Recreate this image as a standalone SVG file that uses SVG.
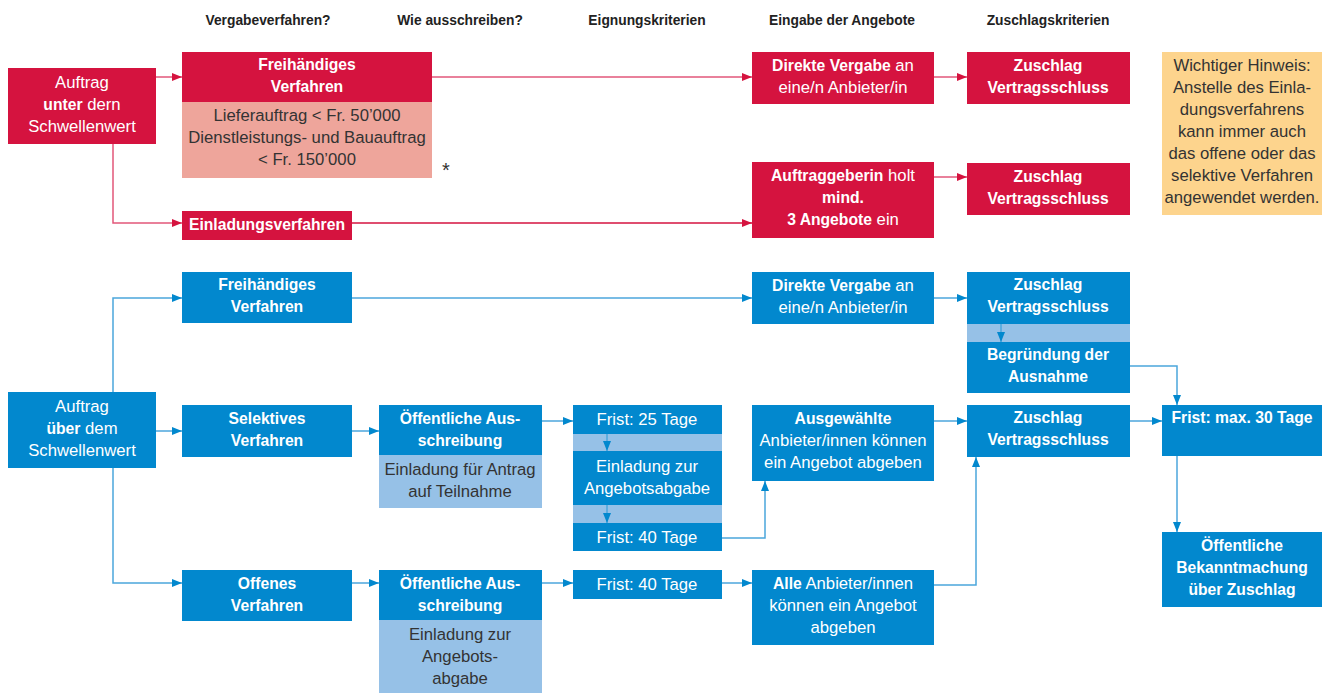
<svg xmlns="http://www.w3.org/2000/svg" width="1322" height="693" viewBox="0 0 1322 693">
<style>
text{font-family:"Liberation Sans",Arial,sans-serif;font-size:16.7px;text-anchor:middle}
.h{font-weight:bold;font-size:13.8px;fill:#222}
.w{fill:#fff}
.d{fill:#333}
.b{font-weight:bold;font-size:15.7px}
.red{fill:#D5133F}
.pink{fill:#EEA59B}
.blue{fill:#0288CE}
.lb{fill:#96C1E7}
.note{fill:#FDD48D}
.lr{fill:none;stroke:#E2577A;stroke-width:1.5}
.lr2{fill:none;stroke:#D5133F;stroke-width:1.5}
.lbl{fill:none;stroke:#4BA6DC;stroke-width:1.5}
</style>
<defs>
<marker id="ar" markerUnits="userSpaceOnUse" markerWidth="10" markerHeight="8" refX="10" refY="4" orient="auto"><path d="M0,0 L10,4 L0,8 z" fill="#D5133F"/></marker>
<marker id="ab" markerUnits="userSpaceOnUse" markerWidth="10" markerHeight="8" refX="10" refY="4" orient="auto"><path d="M0,0 L10,4 L0,8 z" fill="#0288CE"/></marker>
</defs>
<rect width="1322" height="693" fill="#fff"/>
<g id="headers">
<text class="h" x="268" y="25">Vergabeverfahren?</text>
<text class="h" x="460" y="25">Wie ausschreiben?</text>
<text class="h" x="647" y="25">Eignungskriterien</text>
<text class="h" x="842" y="25">Eingabe der Angebote</text>
<text class="h" x="1048" y="25">Zuschlagskriterien</text>
</g>
<g id="connectors">
<path class="lr" d="M156,77 H182" marker-end="url(#ar)"/>
<path class="lr" d="M113,144 V223 H182" marker-end="url(#ar)"/>
<path class="lr" d="M432,77 H752" marker-end="url(#ar)"/>
<path class="lr2" d="M352,223 H752" marker-end="url(#ar)"/>
<path class="lr" d="M934,77 H967" marker-end="url(#ar)"/>
<path class="lr" d="M934,177 H967" marker-end="url(#ar)"/>
<path class="lbl" d="M113,392 V298 H182" marker-end="url(#ab)"/>
<path class="lbl" d="M156,431 H182" marker-end="url(#ab)"/>
<path class="lbl" d="M113,468 V583 H182" marker-end="url(#ab)"/>
<path class="lbl" d="M352,298 H752" marker-end="url(#ab)"/>
<path class="lbl" d="M352,431 H379" marker-end="url(#ab)"/>
<path class="lbl" d="M542,421 H573" marker-end="url(#ab)"/>
<path class="lbl" d="M722,538 H765 V481" marker-end="url(#ab)"/>
<path class="lbl" d="M352,583 H379" marker-end="url(#ab)"/>
<path class="lbl" d="M542,583 H573" marker-end="url(#ab)"/>
<path class="lbl" d="M722,583 H752" marker-end="url(#ab)"/>
<path class="lbl" d="M934,298 H967" marker-end="url(#ab)"/>
<path class="lbl" d="M934,421 H967" marker-end="url(#ab)"/>
<path class="lbl" d="M934,585 H976 V457" marker-end="url(#ab)"/>
<path class="lbl" d="M1130,366 H1177 V405" marker-end="url(#ab)"/>
<path class="lbl" d="M1130,421 H1162" marker-end="url(#ab)"/>
<path class="lbl" d="M1177,456 V532" marker-end="url(#ab)"/>
</g>
<g id="auftrag-unter">
<rect class="red" x="8" y="68" width="148" height="76"/>
<text class="w" x="82" y="88">Auftrag</text>
<text class="w" x="82" y="110"><tspan class="b">unter</tspan> dern</text>
<text class="w" x="82" y="132">Schwellenwert</text>
</g>
<g id="freihaendig-rot">
<rect class="red" x="182" y="52" width="250" height="50"/>
<rect class="pink" x="182" y="102" width="250" height="76"/>
<text class="w b" x="307" y="70">Freihändiges</text>
<text class="w b" x="307" y="92">Verfahren</text>
<text class="d" x="307" y="121">Lieferauftrag &lt; Fr. 50’000</text>
<text class="d" x="307" y="143">Dienstleistungs- und Bauauftrag</text>
<text class="d" x="307" y="165">&lt; Fr. 150’000</text>
</g>
<g id="asterisk"><text class="d" x="446" y="177" style="font-size:20px">*</text></g>
<g id="einladung">
<rect class="red" x="182" y="211" width="170" height="29"/>
<text class="w b" x="267" y="230">Einladungsverfahren</text>
</g>
<g id="direkt-rot">
<rect class="red" x="752" y="52" width="182" height="52"/>
<text class="w" x="843" y="71"><tspan class="b">Direkte Vergabe</tspan> an</text>
<text class="w" x="843" y="93">eine/n Anbieter/in</text>
</g>
<g id="auftraggeberin">
<rect class="red" x="752" y="162" width="182" height="76"/>
<text class="w" x="843" y="181"><tspan class="b">Auftraggeberin</tspan> holt</text>
<text class="w b" x="843" y="203">mind.</text>
<text class="w" x="843" y="225"><tspan class="b">3 Angebote</tspan> ein</text>
</g>
<g id="zuschlag-rot1">
<rect class="red" x="967" y="52" width="163" height="52"/>
<text class="w b" x="1048" y="71">Zuschlag</text>
<text class="w b" x="1048" y="93">Vertragsschluss</text>
</g>
<g id="zuschlag-rot2">
<rect class="red" x="967" y="163" width="163" height="52"/>
<text class="w b" x="1048" y="182">Zuschlag</text>
<text class="w b" x="1048" y="204">Vertragsschluss</text>
</g>
<g id="hinweis">
<rect class="note" x="1162" y="52" width="160" height="163"/>
<text class="d" x="1242" y="71">Wichtiger Hinweis:</text>
<text class="d" x="1242" y="93">Anstelle des Einla-</text>
<text class="d" x="1242" y="115">dungsverfahrens</text>
<text class="d" x="1242" y="137">kann immer auch</text>
<text class="d" x="1242" y="159">das offene oder das</text>
<text class="d" x="1242" y="181">selektive Verfahren</text>
<text class="d" x="1242" y="203">angewendet werden.</text>
</g>
<g id="auftrag-ueber">
<rect class="blue" x="8" y="392" width="148" height="76"/>
<text class="w" x="82" y="412">Auftrag</text>
<text class="w" x="82" y="434"><tspan class="b">über</tspan> dem</text>
<text class="w" x="82" y="456">Schwellenwert</text>
</g>
<g id="freihaendig-blau">
<rect class="blue" x="182" y="272" width="170" height="51"/>
<text class="w b" x="267" y="290">Freihändiges</text>
<text class="w b" x="267" y="312">Verfahren</text>
</g>
<g id="selektiv">
<rect class="blue" x="182" y="405" width="170" height="52"/>
<text class="w b" x="267" y="424">Selektives</text>
<text class="w b" x="267" y="446">Verfahren</text>
</g>
<g id="offen">
<rect class="blue" x="182" y="570" width="170" height="51"/>
<text class="w b" x="267" y="589">Offenes</text>
<text class="w b" x="267" y="611">Verfahren</text>
</g>
<g id="ausschreibung-sel">
<rect class="blue" x="379" y="405" width="163" height="50"/>
<rect class="lb" x="379" y="455" width="163" height="53"/>
<text class="w b" x="460" y="424">Öffentliche Aus-</text>
<text class="w b" x="460" y="446">schreibung</text>
<text class="d" x="460" y="475">Einladung für Antrag</text>
<text class="d" x="460" y="497">auf Teilnahme</text>
</g>
<g id="ausschreibung-off">
<rect class="blue" x="379" y="570" width="163" height="50"/>
<rect class="lb" x="379" y="620" width="163" height="73"/>
<text class="w b" x="460" y="589">Öffentliche Aus-</text>
<text class="w b" x="460" y="611">schreibung</text>
<text class="d" x="460" y="640">Einladung zur</text>
<text class="d" x="460" y="662">Angebots-</text>
<text class="d" x="460" y="684">abgabe</text>
</g>
<g id="frist-stack">
<rect class="blue" x="573" y="405" width="149" height="29"/>
<rect class="lb" x="573" y="434" width="149" height="17"/>
<rect class="blue" x="573" y="451" width="149" height="54"/>
<rect class="lb" x="573" y="505" width="149" height="18"/>
<rect class="blue" x="573" y="523" width="149" height="28"/>
<path class="lbl" d="M607,434 V451" marker-end="url(#ab)"/>
<path class="lbl" d="M607,505 V523" marker-end="url(#ab)"/>
<text class="w" x="647" y="425">Frist: 25 Tage</text>
<text class="w" x="647" y="472">Einladung zur</text>
<text class="w" x="647" y="494">Angebotsabgabe</text>
<text class="w" x="647" y="543">Frist: 40 Tage</text>
</g>
<g id="frist-off">
<rect class="blue" x="573" y="570" width="149" height="29"/>
<text class="w" x="647" y="590">Frist: 40 Tage</text>
</g>
<g id="direkt-blau">
<rect class="blue" x="752" y="272" width="182" height="52"/>
<text class="w" x="843" y="291"><tspan class="b">Direkte Vergabe</tspan> an</text>
<text class="w" x="843" y="313">eine/n Anbieter/in</text>
</g>
<g id="ausgewaehlte">
<rect class="blue" x="752" y="405" width="182" height="76"/>
<text class="w b" x="843" y="424">Ausgewählte</text>
<text class="w" x="843" y="446">Anbieter/innen können</text>
<text class="w" x="843" y="468">ein Angebot abgeben</text>
</g>
<g id="alle">
<rect class="blue" x="752" y="570" width="182" height="75"/>
<text class="w" x="843" y="589"><tspan class="b">Alle</tspan> Anbieter/innen</text>
<text class="w" x="843" y="611">können ein Angebot</text>
<text class="w" x="843" y="633">abgeben</text>
</g>
<g id="zuschlag-blau1">
<rect class="blue" x="967" y="272" width="163" height="52"/>
<rect class="lb" x="967" y="324" width="163" height="18"/>
<rect class="blue" x="967" y="342" width="163" height="51"/>
<path class="lbl" d="M1001,324 V342" marker-end="url(#ab)"/>
<text class="w b" x="1048" y="290">Zuschlag</text>
<text class="w b" x="1048" y="312">Vertragsschluss</text>
<text class="w b" x="1048" y="360">Begründung der</text>
<text class="w b" x="1048" y="382">Ausnahme</text>
</g>
<g id="zuschlag-blau2">
<rect class="blue" x="967" y="405" width="163" height="52"/>
<text class="w b" x="1048" y="423">Zuschlag</text>
<text class="w b" x="1048" y="445">Vertragsschluss</text>
</g>
<g id="frist-max">
<rect class="blue" x="1162" y="405" width="160" height="51"/>
<text class="w b" x="1242" y="423">Frist: max. 30 Tage</text>
</g>
<g id="bekanntmachung">
<rect class="blue" x="1162" y="532" width="160" height="75"/>
<text class="w b" x="1242" y="551">Öffentliche</text>
<text class="w b" x="1242" y="573">Bekanntmachung</text>
<text class="w b" x="1242" y="595">über Zuschlag</text>
</g>
</svg>
